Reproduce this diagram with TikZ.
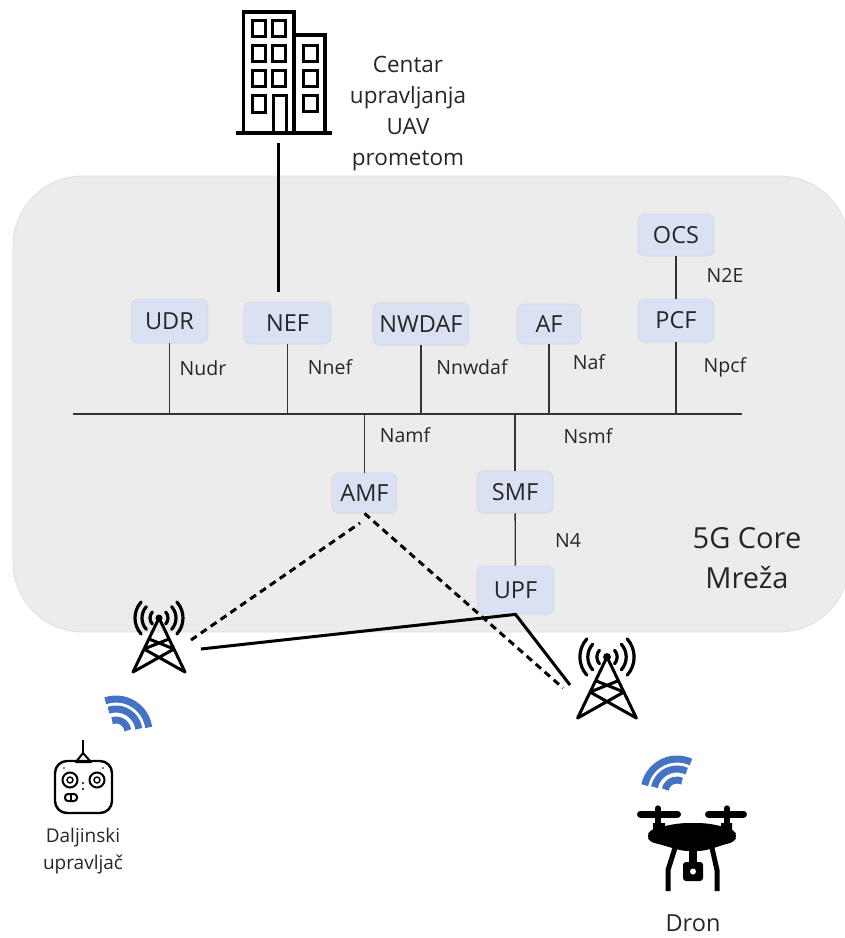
\documentclass[tikz,border=0pt]{standalone}
\usepackage{fontspec}
\setmainfont{Open Sans}
\usepackage{xcolor}
\usepackage{tikz}
\usetikzlibrary{calc,positioning}
\definecolor{corebg}{HTML}{ECECEC}
\definecolor{coreln}{HTML}{DEDEDE}
\definecolor{boxbg}{HTML}{DAE1F3}
\definecolor{boxln}{HTML}{D3D8E6}
\definecolor{wave}{HTML}{4472C4}
\definecolor{txt}{HTML}{262626}
\tikzset{
  core/.style={fill=corebg, draw=coreln, line width=0.8pt, rounded corners=70pt},
  nf/.style={fill=boxbg, draw=boxln, line width=0.8pt, rounded corners=7pt, text=txt, font=\fontsize{23.5}{25}\selectfont, inner sep=0pt, anchor=center},
  lab/.style={text=txt, font=\fontsize{19.5}{22}\selectfont, inner sep=0pt},
  big/.style={text=txt, font=\fontsize{29}{40}\selectfont, align=center, inner sep=0pt},
  capt/.style={text=txt, align=center, inner sep=0pt},
  bus/.style={draw=black!80, line width=1.3pt},
  heavy/.style={draw=black, line width=3pt},
  sig/.style={draw=black, line width=3pt, dash pattern=on 7pt off 5pt},
  icon/.style={draw=black, line width=3.4pt},
  band/.style={draw=wave, line width=7pt},
  mast/.pic={
    \draw[draw=black, line width=3pt, line join=round, line cap=round] (-26,54) -- (0,0) -- (26,54)
      (-10,21) -- (15,31) -- (-26,54) (10,21) -- (-15,31) -- (26,54);
    \fill (0,0) circle (3.5);
    \foreach \r in {9,17,24} {
      \draw[draw=black, line width=3.2pt, line cap=round] (-42:\r) arc[start angle=-42, end angle=42, radius=\r];
      \draw[draw=black, line width=3.2pt, line cap=round] (138:\r) arc[start angle=138, end angle=222, radius=\r];
    }
  },
}
\begin{document}
\begin{tikzpicture}[x=1pt,y=-1pt]
\useasboundingbox (0,0) rectangle (845,938);
\draw[core] (13,176) rectangle (849,632);

% network functions
\node[nf, minimum width=77pt, minimum height=44pt] (udr) at (169.5,321) {UDR};
\node[nf, minimum width=87pt, minimum height=42pt] (nef) at (287.5,323) {NEF};
\node[nf, minimum width=96pt, minimum height=42pt] (nwdaf) at (421,324) {NWDAF};
\node[nf, minimum width=64pt, minimum height=40pt] (af) at (549,324) {AF};
\node[nf, minimum width=76pt, minimum height=43pt] (pcf) at (676,320.5) {PCF};
\node[nf, minimum width=76pt, minimum height=42pt] (ocs) at (676,235) {OCS};
\node[nf, minimum width=65pt, minimum height=40pt] (amf) at (364.5,493) {AMF};
\node[nf, minimum width=76pt, minimum height=42pt] (smf) at (515,492) {SMF};
\node[nf, minimum width=77pt, minimum height=48pt] (upf) at (515.5,590) {UPF};

% bus
\coordinate (busl) at (73,414);
\coordinate (busr) at (742,414);
\draw[bus] (busl) -- (busr);
\foreach \n in {udr,nef,nwdaf,af,pcf} {
  \draw[bus] (\n.south) -- (\n.south |- busl);
}
\draw[bus] (amf.north) -- (amf.north |- busl);
\draw[bus] (smf.north) -- (smf.north |- busl);
\draw[bus] (ocs) -- (pcf);
\draw[bus] (smf) -- (upf);

\node[lab] (nudr) at (203,368) {Nudr};
\node[lab] (nnef) at (330,367) {Nnef};
\node[lab] (nnwdaf) at (472,367) {Nnwdaf};
\node[lab] (naf) at (589,362) {Naf};
\node[lab] (npcf) at (725,367) {Npcf};
\node[lab] (ntwoe) at (725,275) {N2E};
\node[lab] (namf) at (405,435) {Namf};
\node[lab] (nsmf) at (588,436) {Nsmf};
\node[lab] (nfour) at (568,540) {N4};
\node[big] (corename) at (747,558) {5G Core\\Mreža};

% building
\draw[icon] (243.5,133) -- (243.5,12) -- (294,12) -- (294,133) (294,35) -- (325,35) -- (325,133);
\draw[draw=black, line width=4pt] (236,133) -- (332,133);
\foreach \x in {252,272} \foreach \y in {20,45,70} {
  \draw[draw=black, line width=3pt] (\x,\y) rectangle ++(13,16);
}
\draw[draw=black, line width=3pt] (252,95) rectangle (265,112);
\draw[draw=black, line width=3pt] (273,133) -- (273,95) -- (286,95) -- (286,133);
\foreach \y in {45,70,95} {
  \draw[draw=black, line width=3pt] (303,\y) rectangle ++(14,16);
}
\coordinate (bldg) at (278,143);
\coordinate (nefup) at (278,292);
\draw[heavy] (bldg) -- (nefup);
\node[capt, font=\fontsize{22.5}{31}\selectfont] (centar) at (408,113.5) {Centar\\upravljanja\\UAV\\prometom};

% towers
\pic (towerl) at (159,618) {mast};
\pic[scale=1.13] (towerr) at (607,657) {mast};
\coordinate (tlsig) at (191,640);
\coordinate (tlbh) at (201,649);
\coordinate (trsig) at (563,688);
\coordinate (trbh) at (570,685);
\coordinate (amfl) at (360,523);
\draw[sig] (tlsig) -- (amfl);
\draw[sig] (amf.south) -- (trsig);
\draw[heavy] (tlbh) -- (upf.south) -- (trbh);

% radio waves
\foreach \r in {33,23,12} {
  \draw[band] ($(116,732)+(-109:\r)$) arc[start angle=-109, end angle=-8, radius=\r];
  \draw[band] ($(677,792)+(-168:\r)$) arc[start angle=-168, end angle=-65, radius=\r];
}

% remote
\draw[draw=black, line width=2pt] (83,740) -- (83,753);
\draw[draw=black, line width=2pt, line join=round] (76,762) -- (83,753) -- (91,762) -- cycle;
\draw[draw=black, line width=2.4pt, rounded corners=12pt] (55,761) rectangle (112,813);
\foreach \x in {70,97} {
  \draw[draw=black, line width=2pt] (\x,780) circle (7.5);
  \draw[draw=black, line width=1.4pt] (\x,780) circle (3);
}
\fill (83,783) circle (1.2) (83,789) circle (1.2) (64,768) circle (0.9) (103,768) circle (0.9);
\draw[draw=black, line width=2pt, rounded corners=3pt] (65,794) rectangle (77,801);
\draw[draw=black, line width=1.2pt] (71,794) -- (71,801);
\node[capt, font=\fontsize{19}{27}\selectfont] (remote) at (83,851) {Daljinski\\upravljač};

% drone
\draw[draw=black, line width=7pt, line cap=round] (640.5,814) -- (677.5,814) (708.5,814) -- (743.5,814);
\draw[draw=black, line width=5.3pt, line cap=round] (658,808) -- (658,826) (727,808) -- (727,826);
\fill (653,823) rectangle (665,833) (721,823) rectangle (732,833);
\fill[rounded corners=4pt] (650,830) .. controls (668,825) and (678,823) .. (693,823)
  .. controls (708,823) and (718,825) .. (734,830) -- (737,836) -- (734,842)
  .. controls (718,846) and (708,851) .. (693,851) .. controls (678,851) and (668,846) .. (650,842) -- (647,836) -- cycle;
\draw[draw=black, line width=5pt] (675,848) -- (668,870) -- (668,891) (712,848) -- (717,870) -- (717,891);
\fill (689,850) rectangle (697,863);
\fill[rounded corners=3pt] (683,862) rectangle (703,881);
\fill[white] (693,871.5) circle (3);
\node[capt, font=\fontsize{23.5}{25}\selectfont] (dron) at (693,923) {Dron};
\end{tikzpicture}
\end{document}
